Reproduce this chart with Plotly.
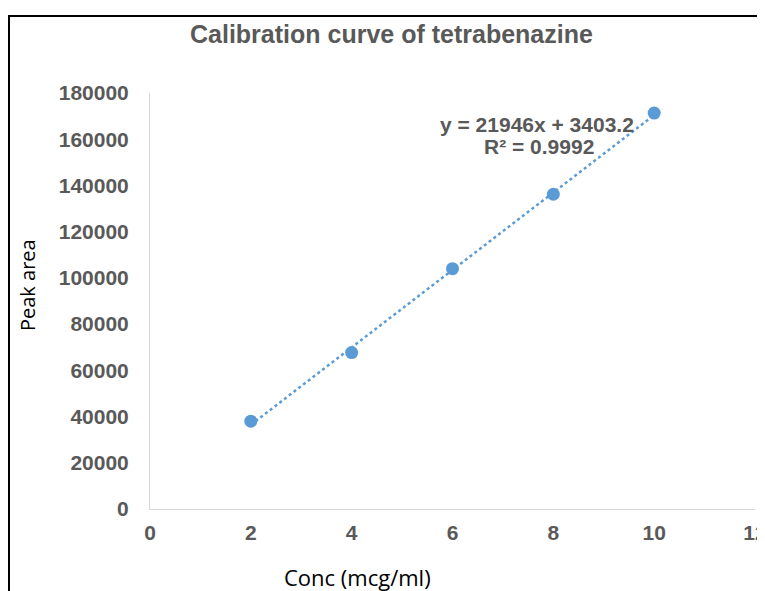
import numpy as np
import plotly.graph_objects as go

conc = [2, 4, 6, 8, 10]
peak_area = [38000, 67700, 104000, 136200, 171300]
x_ticks = [0, 2, 4, 6, 8, 10, 12]
y_ticks = [0, 20000, 40000, 60000, 80000, 100000, 120000, 140000, 160000, 180000]
title_text = "Calibration curve of tetrabenazine"
equation_line1 = "y = 21946x + 3403.2"
equation_line2 = "R² = 0.9992"
x_title = "Conc (mcg/ml)"
y_title = "Peak area"

slope, intercept = np.polyfit(conc, peak_area, 1)
trend_x = [conc[0], conc[-1]]
trend_y = [slope * v + intercept for v in trend_x]

blue = "#5B9BD5"
grey = "#595959"

fig = go.Figure()
fig.add_trace(go.Scatter(x=trend_x, y=trend_y, mode="lines",
                         line=dict(color=blue, width=2.5, dash="dot"),
                         showlegend=False, hoverinfo="skip"))
fig.add_trace(go.Scatter(x=conc, y=peak_area, mode="markers",
                         marker=dict(color=blue, size=13),
                         showlegend=False))

OFF = 8  # page body margin
W, H = 765 - OFF, 591 - OFF
# plot area in screen pixels
SX0, SX1, SY0, SY1 = 150, 755, 93, 509
L = SX0 - OFF
T = SY0 - OFF
R = W - (SX1 - OFF)
B = H - (SY1 - OFF)
pw, ph = W - L - R, H - T - B

def px_x(p):
    return (p - OFF - L) / pw

def px_y(p):
    return (H - B - (p - OFF)) / ph

fig.update_layout(
    width=W, height=H,
    margin=dict(l=L, r=R, t=T, b=B, autoexpand=False),
    paper_bgcolor="white", plot_bgcolor="white",
    showlegend=False,
    xaxis=dict(range=[0, 12], tickvals=x_ticks, ticktext=["<b>%d</b>" % v for v in x_ticks],
               showgrid=False, zeroline=False, showline=True, linecolor="#D9D9D9", linewidth=1,
               ticks="outside", ticklen=5, tickcolor="rgba(0,0,0,0)", automargin=False,
               ticklabeloverflow="allow",
               tickfont=dict(family="Liberation Sans", size=21, color=grey)),
    yaxis=dict(range=[0, 180000], tickvals=y_ticks, ticktext=["<b>%d</b>" % v for v in y_ticks],
               showgrid=False, zeroline=False, showline=True, linecolor="#D9D9D9", linewidth=1,
               ticks="outside", ticklen=16, tickcolor="rgba(0,0,0,0)", automargin=False,
               tickfont=dict(family="Liberation Sans", size=21, color=grey)),
)

fig.add_annotation(x=px_x(391), y=px_y(34), xref="paper", yref="paper",
                   text="<b>" + title_text + "</b>", showarrow=False,
                   xanchor="center", yanchor="middle",
                   font=dict(family="Liberation Sans", size=25, color=grey))
fig.add_annotation(x=px_x(357), y=px_y(577), xref="paper", yref="paper",
                   text=x_title, showarrow=False, xanchor="center", yanchor="middle",
                   font=dict(family="Open Sans, Liberation Sans", size=22, color="black"))
fig.add_annotation(x=px_x(27), y=px_y(285), xref="paper", yref="paper",
                   text=y_title, showarrow=False, textangle=-90,
                   xanchor="center", yanchor="middle",
                   font=dict(family="Open Sans, Liberation Sans", size=20, color="black"))

fig.add_annotation(x=px_x(537), y=px_y(125), xref="paper", yref="paper",
                   text="<b>" + equation_line1 + "</b>", showarrow=False,
                   xanchor="center", yanchor="middle",
                   font=dict(family="Liberation Sans", size=21, color=grey))
fig.add_annotation(x=px_x(539), y=px_y(146), xref="paper", yref="paper",
                   text="<b>" + equation_line2 + "</b>", showarrow=False,
                   xanchor="center", yanchor="middle",
                   font=dict(family="Liberation Sans", size=21, color=grey))

fig.add_shape(type="rect", xref="paper", yref="paper",
              x0=px_x(OFF + 1), x1=px_x(800), y0=px_y(620), y1=px_y(16),
              line=dict(color="black", width=2), fillcolor="rgba(0,0,0,0)", layer="below")

fig.write_html("out.html")
